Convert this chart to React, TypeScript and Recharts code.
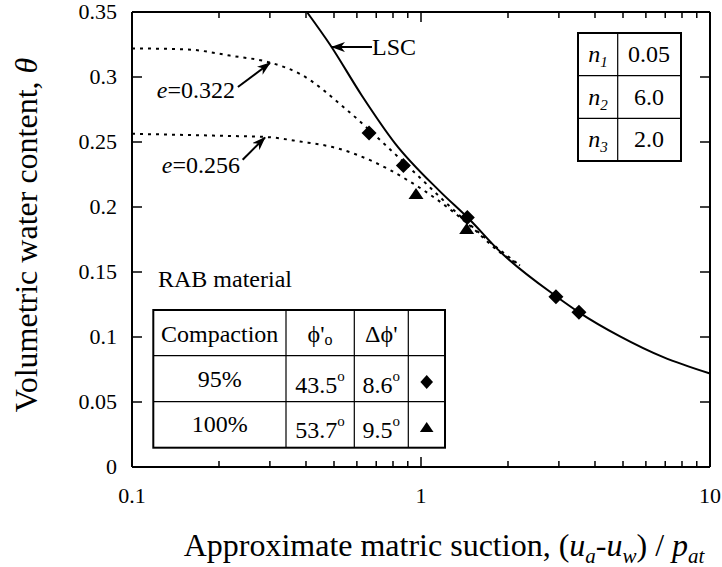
import React from "react";
import { ComposedChart, Line, Scatter, XAxis, YAxis, ReferenceLine } from "recharts";

// LSC (limiting suction curve)
const lscSuction = [0.403, 0.484, 0.623, 0.813, 1.163, 1.478, 1.851, 2.949, 3.521, 4.882, 6.893, 10];
const lscTheta = [0.35, 0.325, 0.286, 0.249, 0.212, 0.19, 0.167, 0.131, 0.119, 0.1005, 0.0845, 0.0719];

// dotted fitted curves
const e322Suction = [0.1, 0.155, 0.218, 0.304, 0.381, 0.553, 0.739, 0.969, 1.26, 1.692, 2.2];
const e322Theta = [0.322, 0.3212, 0.3165, 0.3108, 0.3024, 0.2748, 0.2494, 0.2247, 0.2003, 0.175, 0.155];
const e256Suction = [0.1, 0.2016, 0.2925, 0.3814, 0.511, 0.6823, 0.8948, 1.163, 1.513, 1.832, 2.2];
const e256Theta = [0.2563, 0.2548, 0.2538, 0.2504, 0.2453, 0.235, 0.2209, 0.2041, 0.1836, 0.167, 0.155];

// measured points
const diamondSuction = [0.661, 0.869, 1.446, 2.93, 3.52];
const diamondTheta = [0.257, 0.232, 0.192, 0.131, 0.119];
const triangleSuction = [0.961, 1.439];
const triangleTheta = [0.21, 0.183];

const xTicks = [0.1, 0.2, 0.3, 0.4, 0.5, 0.6, 0.7, 0.8, 0.9, 1, 2, 3, 4, 5, 6, 7, 8, 9, 10];
const xMajor = [0.1, 1, 10];
const xLabels = ["0.1", "1", "10"];
const yTicks = [0, 0.05, 0.1, 0.15, 0.2, 0.25, 0.3, 0.35];
const yLabels = ["0", "0.05", "0.1", "0.15", "0.2", "0.25", "0.3", "0.35"];

const nNames = ["1", "2", "3"];
const nValues = ["0.05", "6.0", "2.0"];

const compaction = ["95%", "100%"];
const phiO = ["43.5", "53.7"];
const dPhi = ["8.6", "9.5"];

const X_MIN = 0.1;
const X_MAX = 10;
const Y_MIN = 0;
const Y_MAX = 0.35;

const W = 722;
const H = 567;
const TICK_OFF = 8; // recharts default tickSize 6 + tickMargin 2

const toRows = (xs: number[], ys: number[]) => xs.map((x, i) => ({ x, y: ys[i] }));

const FONT = "Liberation Serif";

// bottom axis: inward tick + label (labels only on decades)
const BottomTick = (p: any) => {
  const i = xMajor.indexOf(p.payload.value);
  const axisY = p.y - TICK_OFF;
  return (
    <g>
      <line x1={p.x} x2={p.x} y1={axisY} y2={axisY - (i >= 0 ? 10 : 6)} stroke="#000" strokeWidth={1.5} />
      {i >= 0 && (
        <text x={p.x} y={axisY + 36} textAnchor="middle" fontSize={22} fontFamily={FONT} fill="#000">
          {xLabels[i]}
        </text>
      )}
    </g>
  );
};

// left axis: inward tick + label
const LeftTick = (p: any) => {
  const i = yTicks.indexOf(p.payload.value);
  const axisX = p.x + TICK_OFF;
  return (
    <g>
      <line x1={axisX} x2={axisX + 10} y1={p.y} y2={p.y} stroke="#000" strokeWidth={1.5} />
      <text x={axisX - 15} y={p.y + 7} textAnchor="end" fontSize={22} fontFamily={FONT} fill="#000">
        {yLabels[i]}
      </text>
    </g>
  );
};

// mirrored ticks on the top and right sides
const topTick = (len: number) => (p: any) => {
  const top = Math.min(p.y1, p.y2);
  return <line x1={p.x1} x2={p.x1} y1={top} y2={top + len} stroke="#000" strokeWidth={1.5} />;
};
const rightTick = (p: any) => {
  const r = Math.max(p.x1, p.x2);
  return <line x1={r} x2={r - 10} y1={p.y1} y2={p.y1} stroke="#000" strokeWidth={1.5} />;
};

const Diamond = (p: any) => {
  const { cx, cy } = p;
  const s = 7.5;
  return <path d={`M${cx},${cy - s}L${cx + s},${cy}L${cx},${cy + s}L${cx - s},${cy}Z`} fill="#000" />;
};

const Triangle = (p: any) => {
  const { cx, cy } = p;
  return <path d={`M${cx},${cy - 6}L${cx + 7.5},${cy + 5}L${cx - 7.5},${cy + 5}Z`} fill="#000" />;
};

const arrowLsc = [{ x: 0.6767, y: 0.323 }, { x: 0.492, y: 0.323 }];
const arrow322 = [{ x: 0.2325, y: 0.2923 }, { x: 0.3003, y: 0.3108 }];
const arrow256 = [{ x: 0.2415, y: 0.2363 }, { x: 0.2885, y: 0.2535 }];

const T = (props: any) => <text fontFamily={FONT} fill="#000" fontSize={24} {...props} />;

function Overlay() {
  return (
    <svg width={W} height={H} style={{ position: "absolute", left: 0, top: 0, pointerEvents: "none" }}>
      <defs>
        <marker
          id="arrowHead"
          markerUnits="userSpaceOnUse"
          markerWidth={14}
          markerHeight={10}
          refX={13}
          refY={5}
          orient="auto"
        >
          <path d="M0,0 L14,5 L0,10 L4,5 Z" fill="#000" />
        </marker>
      </defs>

      <T transform="translate(37,235) rotate(-90)" textAnchor="middle" fontSize={32}>
        Volumetric water content, <tspan fontStyle="italic">θ</tspan>
      </T>
      <T x={444} y={556} textAnchor="middle" fontSize={32}>
        Approximate matric suction, (<tspan fontStyle="italic">u</tspan>
        <tspan fontStyle="italic" fontSize={21} dy={7}>a</tspan>
        <tspan dy={-7}>-</tspan>
        <tspan fontStyle="italic">u</tspan>
        <tspan fontStyle="italic" fontSize={21} dy={7}>w</tspan>
        <tspan dy={-7}>) / </tspan>
        <tspan fontStyle="italic">p</tspan>
        <tspan fontStyle="italic" fontSize={21} dy={7}>at</tspan>
      </T>

      <T x={372} y={55}>LSC</T>
      <T x={235} y={98.3} textAnchor="end">
        <tspan fontStyle="italic">e</tspan>=0.322
      </T>
      <T x={240} y={173.3} textAnchor="end">
        <tspan fontStyle="italic">e</tspan>=0.256
      </T>

      {/* parameter table */}
      <g stroke="#000" fill="none">
        <rect x={578} y={33} width={103} height={128} strokeWidth={2} />
        <path d="M578,75.7H681M578,118.3H681M617.7,33V161" strokeWidth={1.2} />
      </g>
      {nNames.map((n, i) => (
        <g key={n}>
          <T x={598} y={62 + i * 42.7} textAnchor="middle" fontStyle="italic">
            n<tspan fontSize={15} dy={5}>{n}</tspan>
          </T>
          <T x={649} y={62 + i * 42.7} textAnchor="middle">
            {nValues[i]}
          </T>
        </g>
      ))}

      <T x={158} y={286.7}>RAB material</T>

      {/* compaction table */}
      <g stroke="#000" fill="none">
        <rect x={153.3} y={310} width={291.7} height={137.7} strokeWidth={2} />
        <path
          d="M153.3,355.7H445M153.3,401.7H445M286,310V447.7M354.3,310V447.7M408.3,310V447.7"
          strokeWidth={1.2}
        />
      </g>
      <T x={219.7} y={342} textAnchor="middle">Compaction</T>
      <T x={320} y={342} textAnchor="middle">
        ϕ'<tspan fontSize={16} dy={3}>o</tspan>
      </T>
      <T x={381.3} y={342} textAnchor="middle">Δϕ'</T>
      {compaction.map((c, i) => (
        <g key={c}>
          <T x={219.7} y={386.7 + i * 45} textAnchor="middle">{c}</T>
          <T x={320} y={393.3 + i * 45} textAnchor="middle">
            {phiO[i]}<tspan fontSize={15} dy={-12}>o</tspan>
          </T>
          <T x={381.3} y={393.3 + i * 45} textAnchor="middle">
            {dPhi[i]}<tspan fontSize={15} dy={-12}>o</tspan>
          </T>
        </g>
      ))}
      <path d="M426.7,375 L433,382 L426.7,389 L420.4,382 Z" fill="#000" />
      <path d="M426.7,422 L433.5,432 L419.9,432 Z" fill="#000" />
    </svg>
  );
}

export default function App() {
  const axisLine = { stroke: "#000", strokeWidth: 2 };
  return (
    <div style={{ position: "absolute", left: 0, top: 0, width: W, height: H, background: "#fff" }}>
      <ComposedChart width={W} height={H} margin={{ top: 12, right: 12, bottom: 60, left: 72 }}>
        <XAxis
          xAxisId="b"
          dataKey="x"
          type="number"
          scale="log"
          domain={[X_MIN, X_MAX]}
          ticks={xTicks}
          interval={0}
          height={40}
          tickLine={false}
          axisLine={axisLine}
          tick={<BottomTick />}
        />
        <YAxis
          yAxisId="l"
          dataKey="y"
          type="number"
          domain={[Y_MIN, Y_MAX]}
          ticks={yTicks}
          interval={0}
          width={60}
          tickLine={false}
          axisLine={axisLine}
          tick={<LeftTick />}
        />

        {/* top and right sides of the frame, with mirrored ticks */}
        <ReferenceLine xAxisId="b" yAxisId="l" x={X_MAX} stroke="#000" strokeWidth={2} />
        <ReferenceLine xAxisId="b" yAxisId="l" y={Y_MAX} stroke="#000" strokeWidth={2} />
        {xTicks.map((v) => (
          <ReferenceLine key={"xt" + v} xAxisId="b" yAxisId="l" x={v}
            shape={topTick(xMajor.indexOf(v) >= 0 ? 10 : 6)} />
        ))}
        {yTicks.map((v) => (
          <ReferenceLine key={"yt" + v} xAxisId="b" yAxisId="l" y={v} shape={rightTick} />
        ))}

        <Line
          xAxisId="b"
          yAxisId="l"
          data={toRows(e322Suction, e322Theta)}
          dataKey="y"
          type="monotone"
          stroke="#000"
          strokeWidth={2}
          strokeDasharray="3 5"
          dot={false}
          activeDot={false}
          isAnimationActive={false}
        />
        <Line
          xAxisId="b"
          yAxisId="l"
          data={toRows(e256Suction, e256Theta)}
          dataKey="y"
          type="monotone"
          stroke="#000"
          strokeWidth={2}
          strokeDasharray="3 5"
          dot={false}
          activeDot={false}
          isAnimationActive={false}
        />
        <Line
          xAxisId="b"
          yAxisId="l"
          data={toRows(lscSuction, lscTheta)}
          dataKey="y"
          type="monotone"
          stroke="#000"
          strokeWidth={2}
          dot={false}
          activeDot={false}
          isAnimationActive={false}
        />
        <Scatter
          xAxisId="b"
          yAxisId="l"
          data={toRows(diamondSuction, diamondTheta)}
          dataKey="y"
          shape={Diamond}
          isAnimationActive={false}
        />
        <Scatter
          xAxisId="b"
          yAxisId="l"
          data={toRows(triangleSuction, triangleTheta)}
          dataKey="y"
          shape={Triangle}
          isAnimationActive={false}
        />

        <ReferenceLine xAxisId="b" yAxisId="l" segment={arrowLsc} stroke="#000" strokeWidth={2}
          markerEnd="url(#arrowHead)" ifOverflow="visible" />
        <ReferenceLine xAxisId="b" yAxisId="l" segment={arrow322} stroke="#000" strokeWidth={2}
          markerEnd="url(#arrowHead)" ifOverflow="visible" />
        <ReferenceLine xAxisId="b" yAxisId="l" segment={arrow256} stroke="#000" strokeWidth={2}
          markerEnd="url(#arrowHead)" ifOverflow="visible" />
      </ComposedChart>
      <Overlay />
    </div>
  );
}
